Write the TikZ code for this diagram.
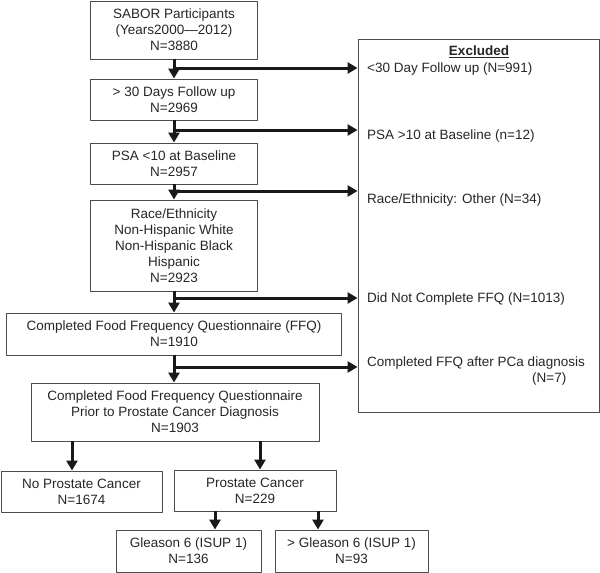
\documentclass[tikz,border=0pt]{standalone}
\usepackage{fontspec}
\setmainfont{Liberation Sans}
\usetikzlibrary{arrows.meta}
\begin{document}
\begin{tikzpicture}[x=1pt, y=-1pt, font=\fontsize{13.5}{16}\selectfont, line join=round,
 >={Triangle[length=10pt,width=11pt]},
 box/.style={draw=black!70, line width=.9pt, text=black!85, align=center, inner sep=0pt},
 item/.style={anchor=west, inner sep=0pt, text=black!85, align=left},
 arr/.style={->, line width=3pt, draw=black!90}]
 \useasboundingbox (0,0) rectangle (600,573);
 % main column
 \node[box, minimum width=167, minimum height=58] (b1) at (174,30) {SABOR Participants\\(Years2000—2012)\\N=3880};
 \node[box, minimum width=167, minimum height=41] (b2) at (174,99.5) {> 30 Days Follow up\\N=2969};
 \node[box, minimum width=167, minimum height=41] (b3) at (174,163.5) {PSA <10 at Baseline\\N=2957};
 \node[box, minimum width=167, minimum height=91] (b4) at (174,245.5) {Race/Ethnicity\\Non-Hispanic White\\Non-Hispanic Black\\Hispanic\\N=2923};
 \node[box, minimum width=335, minimum height=42] (b5) at (174,334) {Completed Food Frequency Questionnaire (FFQ)\\N=1910};
 \node[box, minimum width=288, minimum height=58] (b6) at (175,412) {Completed Food Frequency Questionnaire\\Prior to Prostate Cancer Diagnosis\\N=1903};
 \node[box, minimum width=161, minimum height=41] (b7a) at (81.5,491.5) {No Prostate Cancer\\N=1674};
 \node[box, minimum width=162, minimum height=41] (b7b) at (255,490.5) {Prostate Cancer\\N=229};
 \node[box, minimum width=145, minimum height=42] (b8a) at (188.5,551) {Gleason 6 (ISUP 1)\\N=136};
 \node[box, minimum width=153, minimum height=42] (b8b) at (351.5,551) {> Gleason 6 (ISUP 1)\\N=93};
 % excluded
 \node[box, minimum width=241, minimum height=373] (excl) at (478.5,225.5) {};
 \node[text=black!85, inner sep=0pt] (ttl) at (479,52) {\bfseries\underline{Excluded}};
 \node[item] (e1) at (367,69) {<30 Day Follow up (N=991)};
 \node[item] (e2) at (367,136) {PSA >10 at Baseline (n=12)};
 \node[item] (e3) at (367,200) {Race/Ethnicity: Other (N=34)};
 \node[item] (e4) at (367,299) {Did Not Complete FFQ (N=1013)};
 \node[item] (e5) at (367,371.5) {Completed FFQ after PCa diagnosis\\\hspace*{165pt}(N=7)};
 % arrows down
 \foreach \a/\b in {b1/b2,b2/b3,b3/b4,b4/b5}{\draw[arr] (\a.south) -- (\b.north);}
 \draw[arr] (b5.south) -- (b5.south |- b6.north);
 \coordinate (a1) at (72,0);
 \coordinate (a2) at (260,0);
 \coordinate (a3) at (215,0);
 \coordinate (a4) at (318,0);
 \draw[arr] (b6.south -| a1) -- (a1 |- b7a.north);
 \draw[arr] (b6.south -| a2) -- (a2 |- b7b.north);
 \draw[arr] (b7b.south -| a3) -- (a3 |- b8a.north);
 \draw[arr] (b7b.south -| a4) -- (a4 |- b8b.north);
 % arrows to excluded
 \foreach \i/\y in {1/68,2/130,3/191,4/298,5/367}{
 \coordinate (s\i) at (174,\y);
 \draw[arr] (s\i) -- (s\i -| excl.west);}
\end{tikzpicture}
\end{document}
